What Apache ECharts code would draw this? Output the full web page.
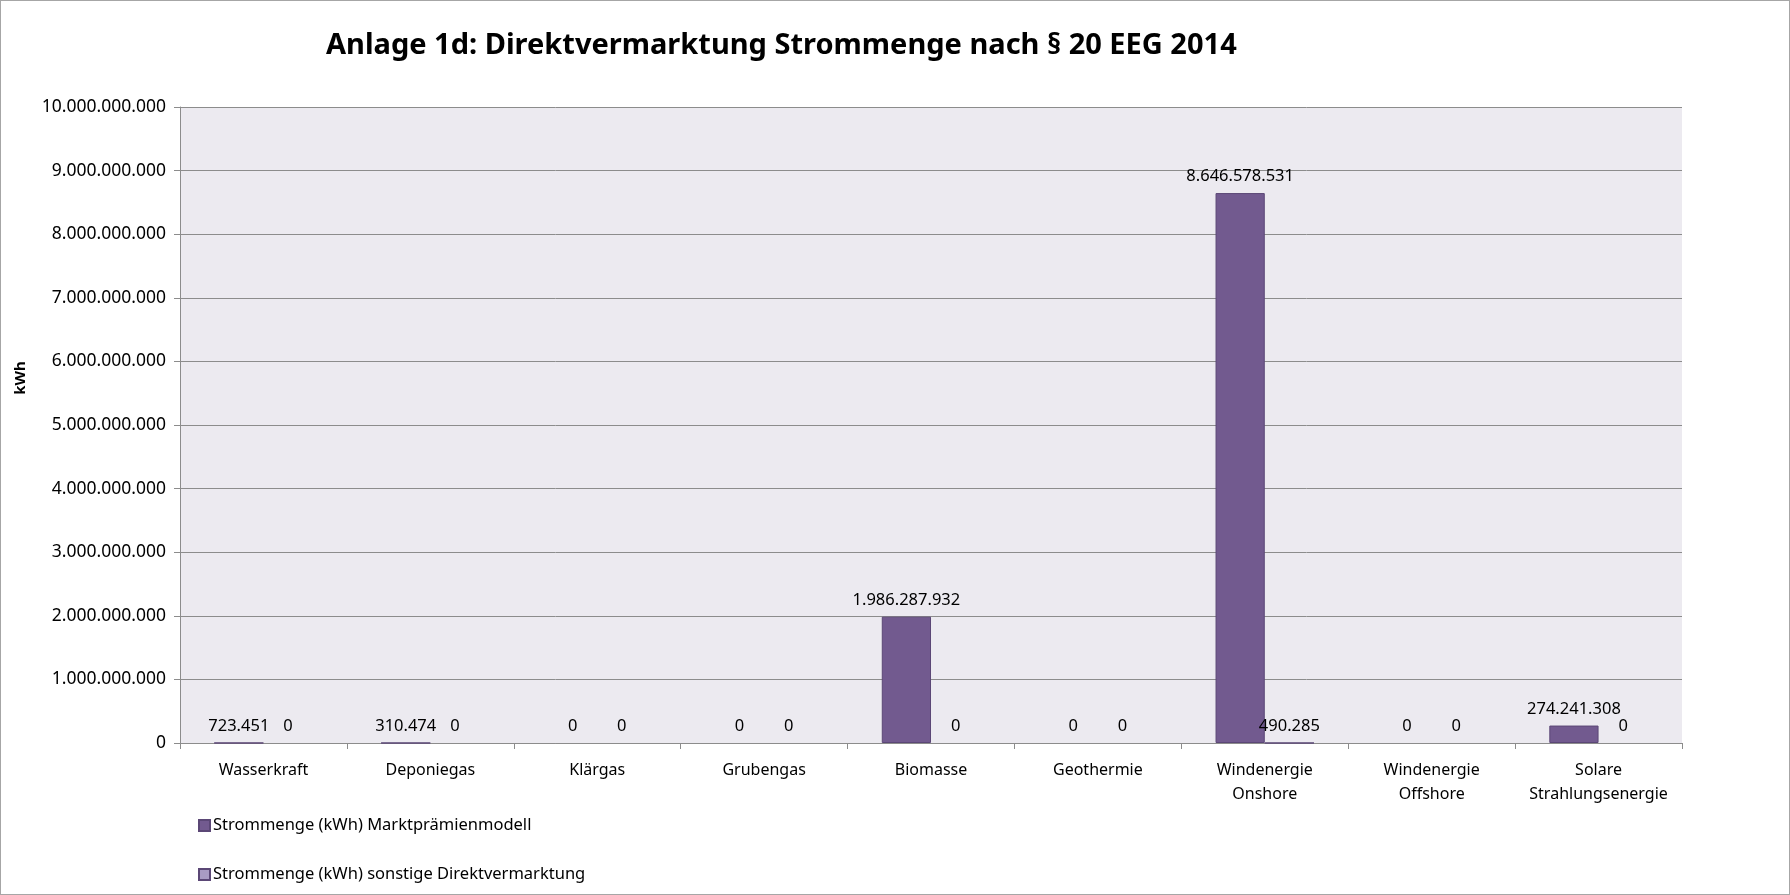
<!DOCTYPE html>
<html>
<head>
<meta charset="utf-8">
<script src="https://cdn.jsdelivr.net/npm/echarts@6/dist/echarts.min.js"></script>
<style>
  html, body { margin: 0; padding: 0; background: #fff; }
  #chart { width: 1790px; height: 895px; box-sizing: border-box; border: 1px solid #a6a6a6; }
</style>
</head>
<body>
<div id="chart"></div>
<script>
const categories = ['Wasserkraft', 'Deponiegas', 'Klärgas', 'Grubengas', 'Biomasse', 'Geothermie',
  'Windenergie Onshore', 'Windenergie Offshore', 'Solare Strahlungsenergie']
const marktpraemie = [723451, 310474, 0, 0, 1986287932, 0, 8646578531, 0, 274241308]
const sonstige = [0, 0, 0, 0, 0, 0, 490285, 0, 0]
const seriesNames = ['Strommenge (kWh) Marktprämienmodell', 'Strommenge (kWh) sonstige Direktvermarktung']

const font = 'Noto Sans'
const fmt = v => Number(v).toLocaleString('de-DE')

// zero bars get no outline, so only real values leave a line on the axis
function toData(arr) {
  return arr.map(v => v === 0 ? { value: v, itemStyle: { borderWidth: 0 } } : v)
}

const chart = echarts.init(document.getElementById('chart'))

const labelStyle = {
  show: true,
  position: 'top',
  distance: 8,
  fontSize: 16.5,
  color: '#000',
  formatter: p => fmt(p.value)
}

const option = {
  animation: false,
  textStyle: { fontFamily: font },
  title: {
    text: 'Anlage 1d: Direktvermarktung Strommenge nach § 20 EEG 2014',
    left: 320,
    top: 25,
    textStyle: { fontFamily: font, fontSize: 29, fontWeight: 'bold', color: '#000' }
  },
  legend: {
    orient: 'vertical',
    left: 192,
    top: 811,
    itemGap: 32,
    itemWidth: 11,
    itemHeight: 11,
    icon: 'rect',
    textStyle: { fontFamily: font, fontSize: 16.5, color: '#000', padding: [0, 0, 0, -2] },
    data: seriesNames
  },
  grid: {
    left: 179,
    right: 107,
    top: 106,
    bottom: 151,
    show: true,
    backgroundColor: '#ECEAF0',
    borderWidth: 0
  },
  xAxis: {
    type: 'category',
    data: categories,
    axisLine: { lineStyle: { color: '#8c8c8c' } },
    axisTick: { show: true, length: 6, lineStyle: { color: '#8c8c8c' } },
    axisLabel: {
      interval: 0,
      margin: 15,
      fontSize: 16,
      color: '#000',
      lineHeight: 24,
      formatter: v => v.replace(' ', '\n')
    }
  },
  yAxis: {
    type: 'value',
    min: 0,
    max: 10000000000,
    interval: 1000000000,
    axisLine: { show: true, lineStyle: { color: '#8c8c8c' } },
    axisTick: { show: true, length: 6, lineStyle: { color: '#8c8c8c' } },
    splitLine: { lineStyle: { color: '#8c8c8c' } },
    axisLabel: { fontSize: 17.5, color: '#000', margin: 14, formatter: fmt }
  },
  graphic: [{
    type: 'text',
    x: 20,
    y: 377,
    rotation: Math.PI / 2,
    style: {
      text: 'kWh',
      fontFamily: font,
      fontSize: 15,
      fontWeight: 'bold',
      fill: '#000',
      align: 'center',
      verticalAlign: 'middle'
    }
  }],
  series: [
    {
      name: seriesNames[0],
      type: 'bar',
      data: toData(marktpraemie),
      barGap: '0%',
      barCategoryGap: '41%',
      itemStyle: { color: '#725A8F', borderColor: '#5B4776', borderWidth: 1 },
      label: labelStyle
    },
    {
      name: seriesNames[1],
      type: 'bar',
      data: toData(sonstige),
      itemStyle: { color: '#A99BC3', borderColor: '#5B4776', borderWidth: 1 },
      label: labelStyle
    }
  ]
}

chart.setOption(option)
</script>
</body>
</html>
